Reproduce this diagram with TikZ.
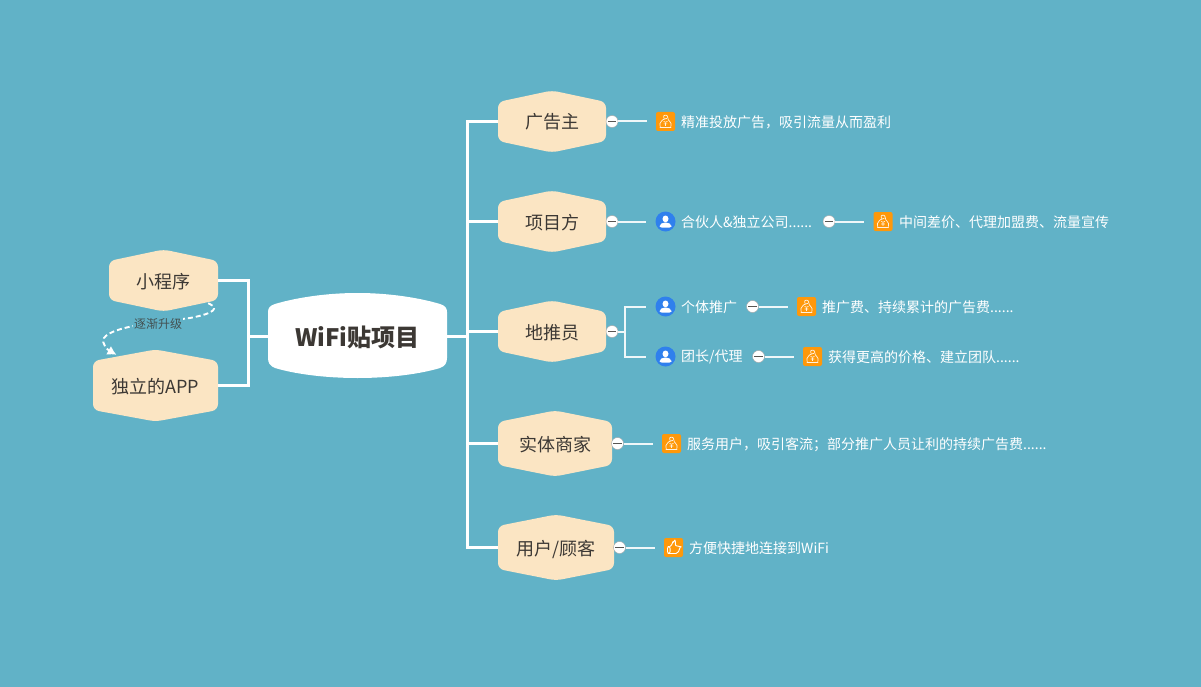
\documentclass[tikz,border=0pt]{standalone}
\usepackage{fontspec}
\setmainfont{Noto Sans CJK SC}
\usetikzlibrary{arrows.meta}

\definecolor{bgblue}{RGB}{97,178,199}
\definecolor{boxcream}{RGB}{251,229,195}
\definecolor{inkdark}{RGB}{60,56,52}
\definecolor{iconorange}{RGB}{255,152,10}
\definecolor{iconblue}{RGB}{47,128,237}

\tikzset{
    link/.style={draw=white, line width=3pt},
    sublink/.style={draw=white!90!bgblue, line width=2pt},
    leaflink/.style={sublink, shorten >=9pt},
    topic/.style={inner sep=0pt, text=inkdark, text height=17pt, text depth=2pt, font=\fontsize{18}{20}\selectfont},
    hubtopic/.style={inner sep=0pt, minimum width=179pt, minimum height=85pt, text=inkdark, text height=23pt, text depth=3pt, font=\fontsize{24}{28}\selectfont\bfseries},
    leaf/.style={anchor=west, inner sep=0pt, yshift=-.8pt, text=white, font=\fontsize{14}{16}\selectfont},
    uplabel/.style={fill=bgblue, inner sep=1pt, text=inkdark!80!bgblue, font=\fontsize{12}{14}\selectfont},
    fold/.style={circle, fill=white, draw=black!35, line width=.4pt, minimum size=12pt, inner sep=0pt,
        path picture={\draw[inkdark!85, line width=1pt] ([xshift=-4.2pt]path picture bounding box.center) -- ([xshift=4.2pt]path picture bounding box.center);}},
    bag/.style={rectangle, rounded corners=2pt, fill=iconorange, minimum size=19pt, inner sep=0pt,
        path picture={
            \begin{scope}[shift={(path picture bounding box.center)}]
                \draw[white!88!iconorange, line width=.7pt, line join=round] (-1.3,-3) -- (-2.6,-6.2) -- (2.6,-6.2) -- (1.3,-3) .. controls (3,-1.5) and (5.6,1.5) .. (5.4,4) .. controls (5.3,5.6) and (4.5,6) .. (3.5,6) -- (-3.5,6) .. controls (-4.5,6) and (-5.3,5.6) .. (-5.4,4) .. controls (-5.6,1.5) and (-3,-1.5) .. (-1.3,-3) -- (1.3,-3);
                \draw[white!88!iconorange, line width=.7pt] (-1.8,-.3) -- (0,1.6) -- (1.8,-.3) (0,1.6) -- (0,4.4) (-1.8,2.4) -- (1.8,2.4);
            \end{scope}}},
    person/.style={circle, fill=iconblue, minimum size=20pt, inner sep=0pt,
        path picture={
            \begin{scope}[shift={(path picture bounding box.center)}]
                \fill[white] (0,-2.6) ellipse (3pt and 3.4pt);
                \fill[white, rounded corners=2pt] (-6,6) -- (-6,3.2) -- (-2.5,1) -- (2.5,1) -- (6,3.2) -- (6,6) -- cycle;
            \end{scope}}},
    thumb/.style={rectangle, rounded corners=2pt, fill=iconorange, minimum size=19pt, inner sep=0pt,
        path picture={
            \begin{scope}[shift={(path picture bounding box.center)}]
                \draw[white, line width=.9pt, line join=round] (-6,-1) rectangle (-3.4,6);
                \draw[white, line width=.9pt, line join=round] (-3.4,-1) -- (-.5,-4) -- (-.5,-7) .. controls (1.5,-7.5) and (2.2,-5) .. (1.5,-1.5) -- (6,-1.5) .. controls (7,-1) and (6.5,0) .. (6,1) -- (4.5,6) -- (-3.4,6);
            \end{scope}}},
}

% hexagon box: name, x, y, half width, half height, text
\newcommand{\hexnode}[6]{
    \fill[boxcream, rounded corners=6pt] (#2,#3-#5-1.5) -- (#2+#4,#3-#5+10) -- (#2+#4,#3+#5-10) -- (#2,#3+#5+1.5) -- (#2-#4,#3+#5-10) -- (#2-#4,#3-#5+10) -- cycle;
    \node[topic, minimum width=2*#4 pt, minimum height=2*#5 pt] (#1) at (#2,#3) {#6};
}

\begin{document}
\begin{tikzpicture}[x=1pt, y=-1pt]
    \fill[bgblue] (0,0) rectangle (1201,687);
    \useasboundingbox (0,0) rectangle (1201,687);

    % centre and left side
    \fill[white] (357.5,293) .. controls (390,293) and (420,298) .. (440,304) .. controls (445,305.5) and (447,308) .. (447,312) -- (447,358) .. controls (447,363) and (445,366) .. (440,368) .. controls (420,374) and (390,378) .. (357.5,378) .. controls (325,378) and (295,374) .. (275,368) .. controls (270,366) and (268,363) .. (268,358) -- (268,312) .. controls (268,308) and (270,305.5) .. (275,304) .. controls (295,298) and (325,293) .. (357.5,293) -- cycle;
    \node[hubtopic] (hub) at (357.5,336) {WiFi贴项目};
    \hexnode{mini}{163.5}{280.5}{54.5}{29.5}{小程序}
    \hexnode{app}{155.5}{385.5}{62.5}{34.5}{独立的APP}
    \coordinate (trunkL) at (248,336);
    \draw[link] (hub.west) -- (trunkL) |- (mini.east);
    \draw[link] (trunkL) |- (app.east);
    \draw[draw=white, line width=1.9pt, dash pattern=on 5pt off 3pt, -{Latex[length=9pt,width=10pt]}] ([xshift=-10pt,yshift=7pt]mini.south east) .. controls (219,308) and (216,313) .. (190,318) .. controls (160,322) and (112,326) .. (104,338) .. controls (101,344) and (108,350) .. ([xshift=-39pt,yshift=-4pt]app.north);
    \node[uplabel] (uptext) at (158,324) {逐渐升级};

    % right side
    \hexnode{adv}{552}{121.5}{54}{29.5}{广告主}
    \hexnode{proj}{552}{221.5}{54}{29.5}{项目方}
    \hexnode{push}{552}{331.5}{54}{29.5}{地推员}
    \hexnode{shop}{555}{443.5}{57}{31.5}{实体商家}
    \hexnode{user}{556}{547.5}{58}{31.5}{用户/顾客}
    \coordinate (trunkR) at (467,336);
    \draw[link] (hub.east) -- (trunkR);
    \draw[link] (trunkR) |- (adv.west);
    \draw[link] (trunkR) |- (proj.west);
    \draw[link] (trunkR) |- (push.west);
    \draw[link] (trunkR) |- (shop.west);
    \draw[link] (trunkR) |- (user.west);

    % first level leaves
    \node[fold] (foldA) at (612,121.5) {};
    \node[bag] (iconA) at (665.5,121.5) {};
    \node[leaf] (textA) at (681,121.5) {精准投放广告，吸引流量从而盈利};
    \draw[leaflink] (foldA.east) -- (iconA.west);

    \node[fold] (foldB) at (612,221.5) {};
    \node[person] (iconB) at (665.5,221.5) {};
    \node[leaf] (textB) at (681,221.5) {合伙人\&独立公司......};
    \draw[leaflink] (foldB.east) -- (iconB.west);
    \node[fold] (foldBB) at (829,221.5) {};
    \node[bag] (iconBB) at (883,221.5) {};
    \node[leaf] (textBB) at (899,221.5) {中间差价、代理加盟费、流量宣传};
    \draw[leaflink] (foldBB.east) -- (iconBB.west);

    \node[fold] (foldC) at (612,331.5) {};
    \node[person] (iconC) at (665.5,306.5) {};
    \node[leaf] (textC) at (681,306.5) {个体推广};
    \node[person] (iconD) at (665.5,356.5) {};
    \node[leaf] (textD) at (681,356.5) {团长/代理};
    \coordinate (forkC) at (625,331.5);
    \draw[sublink] (foldC.east) -- (forkC);
    \draw[leaflink] (forkC) |- (iconC.west);
    \draw[leaflink] (forkC) |- (iconD.west);

    \node[fold] (foldCC) at (752.5,306.5) {};
    \node[bag] (iconCC) at (806.5,306.5) {};
    \node[leaf] (textCC) at (822,306.5) {推广费、持续累计的广告费......};
    \draw[leaflink] (foldCC.east) -- (iconCC.west);
    \node[fold] (foldDD) at (758.5,356.5) {};
    \node[bag] (iconDD) at (812.5,356.5) {};
    \node[leaf] (textDD) at (828,356.5) {获得更高的价格、建立团队......};
    \draw[leaflink] (foldDD.east) -- (iconDD.west);

    \node[fold] (foldE) at (617.5,443.5) {};
    \node[bag] (iconE) at (671.5,443.5) {};
    \node[leaf] (textE) at (687,443.5) {服务用户，吸引客流；部分推广人员让利的持续广告费......};
    \draw[leaflink] (foldE.east) -- (iconE.west);

    \node[fold] (foldF) at (619.5,547.5) {};
    \node[thumb] (iconF) at (673.5,547.5) {};
    \node[leaf] (textF) at (689,547.5) {方便快捷地连接到WiFi};
    \draw[leaflink] (foldF.east) -- (iconF.west);
\end{tikzpicture}
\end{document}
